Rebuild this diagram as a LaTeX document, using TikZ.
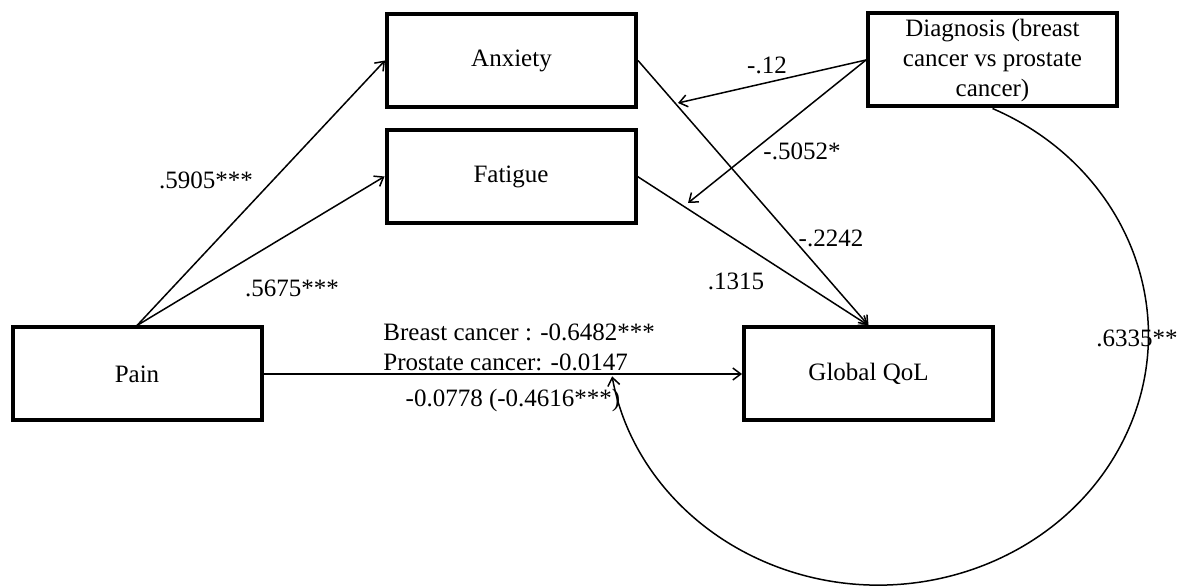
\documentclass[tikz,border=0pt]{standalone}
\usepackage{fontspec}
\setmainfont{Liberation Serif}
\usetikzlibrary{arrows.meta,calc}
\begin{document}
\begin{tikzpicture}[x=0.5pt,y=-0.5pt,
  box/.style={draw,line width=2pt,minimum width=124.5pt,minimum height=46.5pt,inner sep=0pt,align=center,font=\fontsize{12.5}{15}\selectfont},
  lbl/.style={inner sep=0pt,font=\fontsize{12.5}{15}\selectfont},
  conn/.style={line width=0.75pt,-{Straight Barb[length=4pt,width=6pt]}},
  plain/.style={line width=0.75pt}]
\useasboundingbox (0,0) rectangle (1178,587);
% boxes
\node[box] (anx) at (511.5,60.5) {Anxiety};
\node[box] (fat) at (511,176.5) {Fatigue};
\node[box] (diag) at (992.5,60) {Diagnosis (breast\\cancer vs prostate\\cancer)};
\node[box] (pain) at (137,374) {Pain};
\node[box] (qol) at (868.5,374) {Global QoL};
% moderation targets
\coordinate (m1) at (678,103);
\coordinate (m2) at (688,203);
% connectors
\draw[conn] (pain.north) -- (anx.west);
\draw[conn] (pain.north) -- (fat.west);
\draw[conn] (anx.east) -- (qol.north);
\draw[conn] (fat.east) -- (qol.north);
\draw[conn] (diag.west) -- (m1);
\draw[conn] (diag.west) -- (m2);
\draw[conn] (pain.east) -- (qol.west);
\draw[conn] (diag.south) arc[start angle=65, end angle=-170.5, x radius=135pt, y radius=125pt];
% labels
\node[lbl] (l1) at (206,180) {.5905***};
\node[lbl] (l2) at (292,288) {.5675***};
\node[lbl] (l3) at (767,65) {-.12};
\node[lbl] (l4) at (802,151) {-.5052*};
\node[lbl] (l5) at (831,238) {-.2242};
\node[lbl] (l6) at (736,281) {.1315};
\node[lbl,anchor=west] (l7) at (383,332) {Breast cancer : -0.6482***};
\node[lbl,anchor=west] (l8) at (383,362) {Prostate cancer: -0.0147};
\node[lbl] (l9) at (513,400) {-0.0778 (-0.4616***)};
\node[lbl] (l10) at (1137,338) {.6335**};
\end{tikzpicture}
\end{document}
